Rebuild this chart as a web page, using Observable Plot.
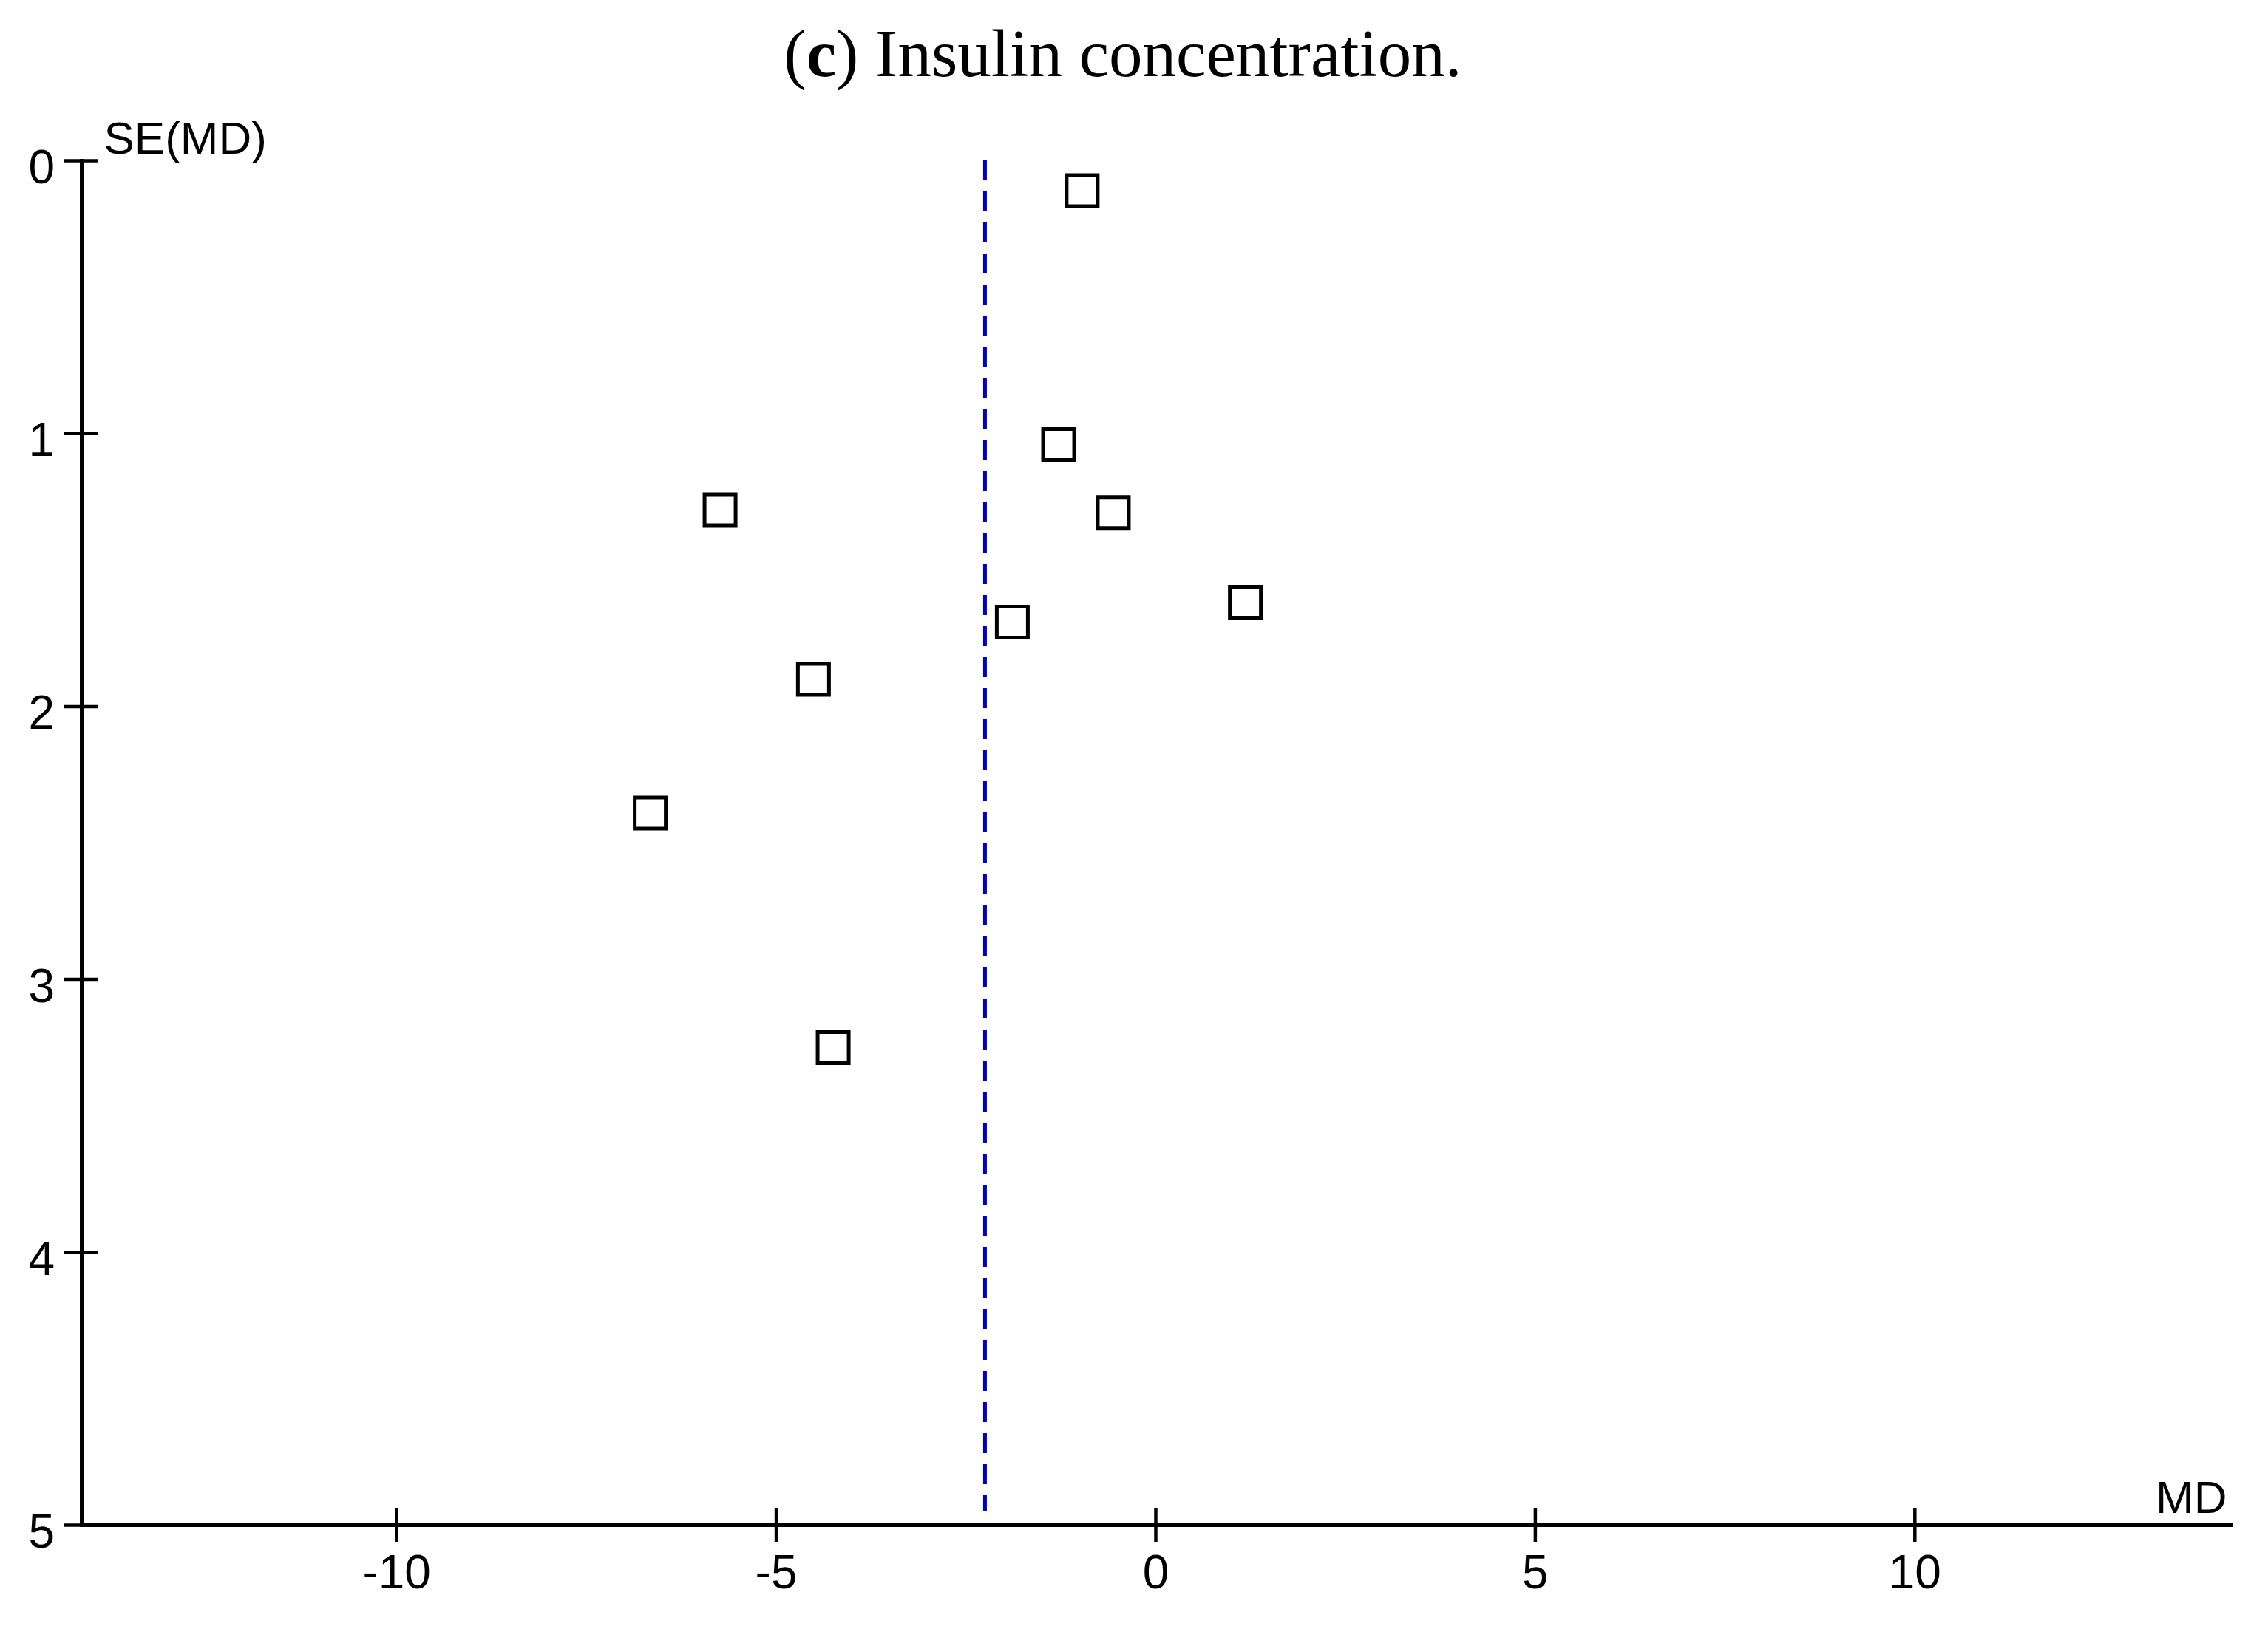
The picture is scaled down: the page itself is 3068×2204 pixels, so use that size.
<!DOCTYPE html>
<html><head><meta charset="utf-8">
<script src="https://cdn.jsdelivr.net/npm/d3@7"></script>
<script src="https://cdn.jsdelivr.net/npm/@observablehq/plot@0.6"></script>
<style>
html,body{margin:0;padding:0;background:#fff;}
#title{height:150px;line-height:145px;font-family:"Liberation Serif",serif;font-size:91px;text-align:center;padding-right:30px;color:#000;white-space:nowrap;}
#chart svg{display:block;}
</style></head><body>
<div id="title">(<b>c</b>) Insulin concentration.</div>
<div id="chart"></div>
<script>
const studyMD = [-0.97, -1.28, -5.74, -0.56, 1.18, -1.89, -4.51, -6.66, -4.25];
const studySE = [0.11, 1.04, 1.28, 1.29, 1.62, 1.69, 1.90, 2.39, 3.25];
const pooledMD = -2.25;
const pooledSERange = [0, 4.95];
const xDomain = [-14.15, 14.17];
const yDomain = [0, 5];
const xTicks = [-10, -5, 0, 5, 10];
const yTicks = [0, 1, 2, 3, 4, 5];
const xLabel = "MD";
const yLabel = "SE(MD)";

const studies = studyMD.map((md, i) => ({md, se: studySE[i]}));
const fmt = d => String(d);

const chart = Plot.plot({
  width: 3068, height: 2054,
  marginLeft: 110, marginRight: 50, marginTop: 67, marginBottom: 141,
  style: {fontFamily: '"Liberation Sans", Arial, sans-serif', fontSize: "64px", background: "white", color: "black"},
  x: {domain: xDomain},
  y: {domain: yDomain, reverse: true},
  marks: [
    Plot.ruleX([pooledMD], {y1: pooledSERange[0], y2: pooledSERange[1], stroke: "#0000c0", strokeWidth: 5, strokeDasharray: "27,15"}),
    Plot.dot(studies, {x: "md", y: "se", symbol: "square", r: 23.7, stroke: "black", strokeWidth: 5, fill: "none"}),
    Plot.frame({anchor: "left", strokeWidth: 5}),
    Plot.frame({anchor: "bottom", strokeWidth: 5}),
    Plot.axisX({ticks: xTicks, fill: "none", tickSize: 46, dy: -23, strokeWidth: 4.5, label: null}),
    Plot.axisX({ticks: xTicks, stroke: "none", tickSize: 0, tickPadding: 40, label: null, tickFormat: fmt}),
    Plot.axisY({ticks: yTicks, fill: "none", tickSize: 46, dx: 23, strokeWidth: 4.5, label: null}),
    Plot.axisY({ticks: yTicks, stroke: "none", tickSize: 0, tickPadding: 36.5, dy: 10, label: null, tickFormat: fmt}),
    Plot.text([yLabel], {text: d => d, frameAnchor: "top-left", dx: 30, dy: -10, textAnchor: "start", lineAnchor: "bottom", fontSize: 62}),
    Plot.text([xLabel], {text: d => d, frameAnchor: "bottom-right", dx: -6, dy: -17, textAnchor: "end", lineAnchor: "bottom", fontSize: 62})
  ]
});
document.getElementById("chart").appendChild(chart);
</script>
</body></html>
